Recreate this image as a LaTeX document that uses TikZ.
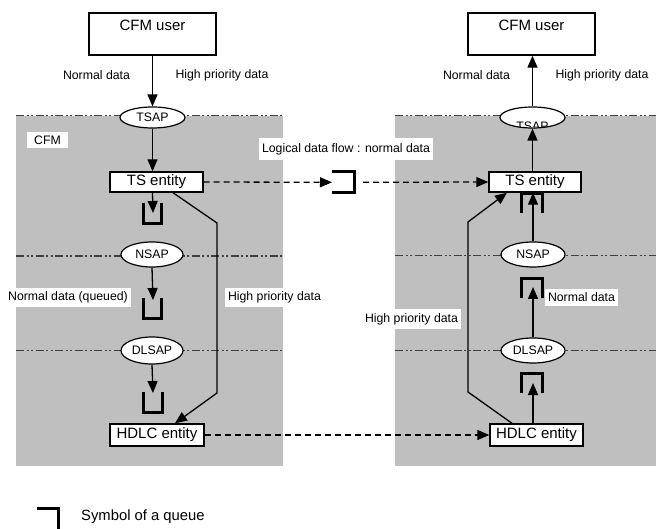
\documentclass[tikz,border=0pt]{standalone}
\usepackage{fontspec}
\setmainfont{Liberation Sans}
\usetikzlibrary{shapes.geometric,arrows.meta,calc}
\begin{document}
\begin{tikzpicture}[x=1pt,y=-1pt,
  conn/.style={line width=1.3pt,-{Triangle[length=12pt,width=10pt]}},
  plainline/.style={line width=1.3pt},
  dconn/.style={line width=1.3pt,dash pattern=on 6pt off 4pt,-{Triangle[length=12pt,width=10pt]}},
  dline/.style={line width=1.3pt,dash pattern=on 6pt off 4pt},
  queue/.style={line width=3pt},
  panel/.style={fill=black!25,draw=none},
  sep/.style={draw=black!75,line width=1pt,dash pattern=on 8pt off 2.5pt on 2pt off 2.5pt on 2pt off 2.5pt},
  septhick/.style={sep,line width=2pt},
  box/.style={draw,fill=white,line width=1.4pt,inner sep=0pt,font=\fontsize{15}{18}\selectfont},
  sap/.style={ellipse,draw,fill=white,line width=1.2pt,inner sep=0pt,font=\fontsize{12.3}{14}\selectfont},
  lbl/.style={font=\fontsize{12.3}{14}\selectfont,inner sep=0pt},
  wlbl/.style={lbl,fill=white,inner xsep=3pt,inner ysep=4pt},
  ]
\useasboundingbox (0,0) rectangle (656,529);
% panels
\fill[panel] (16,116) rectangle (283,466);
\fill[panel] (395,116) rectangle (656,466);
% layer separators
\draw[sep] (16,116) -- (283,116);
\draw[sep] (395,116) -- (656,116);
\draw[septhick] (16,256) -- (283,256);
\draw[sep] (395,256) -- (656,256);
\draw[sep] (16,350) -- (283,350);
\draw[sep] (395,350) -- (656,350);

% CFM user boxes
\node[box,minimum width=127pt,minimum height=42pt] (uL) at (152.5,34) {};
\node[lbl,font=\fontsize{15}{18}\selectfont] (uLt) at (152.5,25) {CFM user};
\node[box,minimum width=127pt,minimum height=42pt] (uR) at (531.5,34) {};
\node[lbl,font=\fontsize{15}{18}\selectfont] (uRt) at (531.5,25) {CFM user};

\node[lbl] (ndL) at (96.5,75) {Normal data};
\node[lbl] (hpL) at (222,75) {High priority data};
\node[lbl] (ndR) at (476.5,75) {Normal data};
\node[lbl] (hpR) at (602,75) {High priority data};

% SAPs
\node[sap,minimum width=65pt,minimum height=21pt] (tsapL) at (152.5,117.5) {TSAP};
\node[sap,minimum width=65pt,minimum height=21pt] (tsapR) at (532.5,117.5) {};
\begin{scope}
  \clip (532.5,117.5) ellipse [x radius=31.5pt, y radius=9.5pt];
  \node[lbl,anchor=base] (tsapRt) at (532.5,131) {TSAP};
\end{scope}
\node[sap,minimum width=62pt,minimum height=25pt] (nsapL) at (152,254.5) {NSAP};
\node[sap,minimum width=64pt,minimum height=25pt] (nsapR) at (533,254.5) {NSAP};
\node[sap,minimum width=62pt,minimum height=27pt] (dlsapL) at (152,350.5) {DLSAP};
\node[sap,minimum width=64pt,minimum height=25pt] (dlsapR) at (533,350.5) {DLSAP};

% entities
\node[box,minimum width=93pt,minimum height=20pt] (tsL) at (156.5,182) {TS entity};
\node[box,minimum width=92pt,minimum height=20pt] (tsR) at (535,182) {TS entity};
\node[box,minimum width=94pt,minimum height=22pt] (hdlcL) at (157,435) {HDLC entity};
\node[box,minimum width=93pt,minimum height=22pt] (hdlcR) at (536.5,435) {HDLC entity};

% labels with white background
\node[lbl,fill=white,minimum width=41pt,minimum height=16pt] (cfm) at (47.5,140) {CFM};
\node[wlbl,inner ysep=5pt] (logical) at (346,149) {Logical data flow : normal data};
\node[wlbl] (ndq) at (68,297.5) {Normal data (queued)};
\node[wlbl] (hpmL) at (274.5,297.5) {High priority data};
\node[wlbl] (hpmR) at (411.5,319) {High priority data};
\node[wlbl] (ndmR) at (581.5,297.5) {Normal data};

% queue coordinates
\coordinate (q1) at (153,213);
\coordinate (q2) at (153,300);
\coordinate (q3) at (153,393);
\coordinate (qmIn) at (332,182.3);
\coordinate (qmOut) at (363,182.3);
\coordinate (r2) at (533,287);
\coordinate (r3) at (533,383);

% left column arrows
\draw[conn] (uL.south -| tsapL.north) -- (tsapL.north);
\draw[conn] (tsapL.south) -- (tsapL.south |- tsL.north);
\draw[conn] (tsapL.south |- tsL.south) -- (q1);
\draw[conn] (nsapL.south) -- (q2);
\draw[conn] (dlsapL.south) -- (q3);
% left queues
\draw[queue] (143.5,203) -- (143.5,223.5) -- (161.5,223.5) -- (161.5,203);
\draw[queue] (143.5,298) -- (143.5,318.5) -- (161.5,318.5) -- (161.5,298);
\draw[queue] (143.5,392) -- (143.5,412.5) -- (162.5,412.5) -- (162.5,392);
% left high priority
\draw[conn] ($(tsL.south)+(16.5,0)$) -- (217,223) -- (217,393) -- ($(hdlcL.north)+(18,0)$);

% right column arrows
\draw[conn] (tsapR.north) -- (tsapR.north |- uR.south);
\draw[conn] (tsR.north -| tsapR.south) -- (tsapR.south);
\draw[conn] (nsapR.north) -- (nsapR.north |- tsR.south);
\draw[conn] (dlsapR.north) -- (r2);
\draw[conn] (hdlcR.north -| dlsapR.north) -- (r3);
% right queues
\draw[queue] (521.5,213) -- (521.5,193.5) -- (542.5,193.5) -- (542.5,213);
\draw[queue] (521.5,298) -- (521.5,278.5) -- (542.5,278.5) -- (542.5,298);
\draw[queue] (521.5,393) -- (521.5,373.5) -- (542.5,373.5) -- (542.5,393);
% right high priority
\draw[conn] ($(hdlcR.north)+(-24.5,0)$) -- (468,392) -- (468,222) -- ($(tsR.south)+(-28,0)$);

% logical flows
\draw[dconn] (tsL.east) -- (qmIn);
\draw[queue] (332,171.5) -- (354,171.5) -- (354,193) -- (332,193);
\draw[dconn] (qmOut) -- (tsR.west);
\draw[dconn] (hdlcL.east) -- (hdlcR.west);

% legend
\draw[queue] (37,508.5) -- (58.5,508.5) -- (58.5,531);
\node[lbl,anchor=west,font=\fontsize{14.8}{17}\selectfont] (legend) at (81,517) {Symbol of a queue};
\end{tikzpicture}
\end{document}
